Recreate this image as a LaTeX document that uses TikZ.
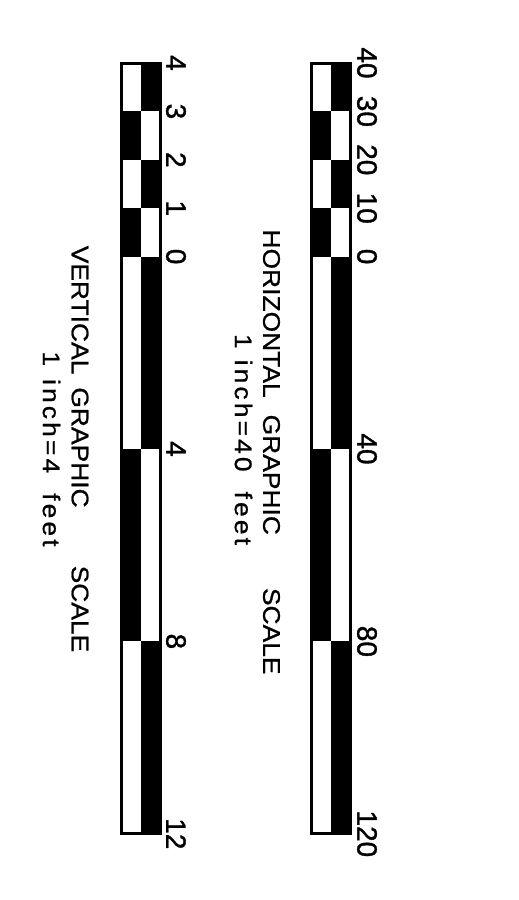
\documentclass[tikz,border=0pt]{standalone}
\usepackage{fontspec}
\setmainfont{Liberation Sans}
\newfontfamily\numfont{Liberation Sans}[FakeBold=1.2]
\newfontfamily\titlefont{Liberation Sans}[FakeStretch=1.1,FakeBold=0.8]
\newfontfamily\notefont{Liberation Sans}[FakeStretch=1.1,FakeBold=0.8,LetterSpace=13]

\tikzset{
  ticknum/.style={font=\numfont\fontsize{28}{32}\selectfont, rotate=-90, inner sep=0pt},
  scaletitle/.style={font=\titlefont\fontsize{24}{28}\selectfont, rotate=-90, inner sep=0pt},
  scalenote/.style={font=\notefont\fontsize{24}{28}\selectfont, rotate=-90, inner sep=0pt},
  barcell/.style={fill=black},
  barframe/.style={draw=black, line width=3pt}
}

\begin{document}
\begin{tikzpicture}[x=1pt,y=-1pt]
\useasboundingbox (0,0) rectangle (519,900);

% vertical graphic scale
\begin{scope}[xshift=120pt]
\foreach \ya/\yb/\xa in {63.0/111.4/21,111.4/159.8/1.5,159.8/208.2/21,208.2/256.6/1.5,256.6/449.0/21,449.0/641.4/1.5,641.4/833.8/21}
  \fill [barcell] (\xa,\ya) rectangle (\xa+19.5,\yb);
\draw [barframe] (1.5,63.0) rectangle (40.5,833.8);
\def\vphr{0/63.0/{4},1/111.4/{3},2/159.8/{2},3/208.2/{1},4/256.6/{0},5/449.0/{4},6/641.4/{8},7/833.8/{12}}
\foreach \i / \y / \element in \vphr
  \node [ticknum] (v\i) at (56,\y) {\element};
\end{scope}

% horizontal graphic scale
\begin{scope}[xshift=310pt]
\foreach \ya/\yb/\xa in {63.0/111.4/21,111.4/159.8/1.5,159.8/208.2/21,208.2/256.6/1.5,256.6/449.0/21,449.0/641.4/1.5,641.4/833.8/21}
  \fill [barcell] (\xa,\ya) rectangle (\xa+19.5,\yb);
\draw [barframe] (1.5,63.0) rectangle (40.5,833.8);
\def\hphr{0/63.0/{40},1/111.4/{30},2/159.8/{20},3/208.2/{10},4/256.6/{0},5/449.0/{40},6/641.4/{80},7/833.8/{120}}
\foreach \j / \y / \element in \hphr
  \node [ticknum] (h\j) at (57,\y) {\element};
\end{scope}

\node [scaletitle] (htitle) at (271.5,452) {HORIZONTAL\hspace{17pt}GRAPHIC\hspace{53pt}SCALE};
\node [scalenote] (hnote) at (243.5,439.5) {1\hspace{11pt}inch=40\hspace{20pt}feet};
\node [scaletitle] (vtitle) at (80,449) {VERTICAL\hspace{13pt}GRAPHIC\hspace{58pt}SCALE};
\node [scalenote] (vnote) at (51.5,449) {1\hspace{13pt}inch=4\hspace{20pt}feet};
\end{tikzpicture}
\end{document}
